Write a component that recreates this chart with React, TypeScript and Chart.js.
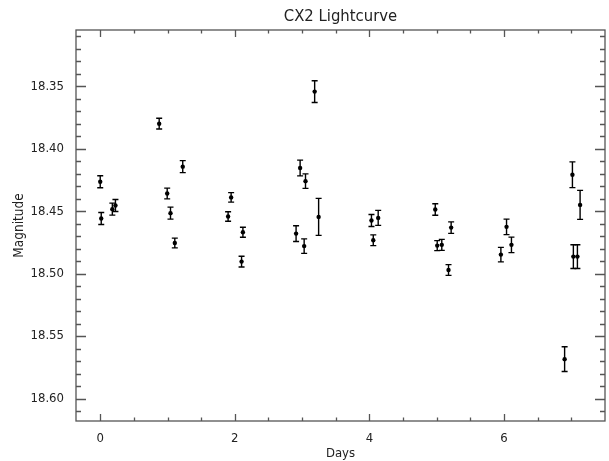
import React, { useEffect, useRef } from "react";
import { Chart, registerables } from "chart.js";

Chart.register(...registerables);

const days = [
  0.0, 0.015, 0.18, 0.226, 0.876, 0.995, 1.044, 1.108, 1.226, 1.9, 1.945, 2.1,
  2.12, 2.91, 2.97, 3.03, 3.05, 3.186, 3.245, 4.03, 4.057, 4.13, 4.978, 5.007,
  5.075, 5.175, 5.214, 5.953, 6.037, 6.11, 6.9, 7.016, 7.03, 7.09, 7.13,
];
const mags = [
  18.4265, 18.4559, 18.4484, 18.4455, 18.38, 18.4359, 18.4516, 18.4755, 18.4144,
  18.4543, 18.439, 18.4904, 18.4669, 18.468, 18.4155, 18.478, 18.426, 18.3543,
  18.4546, 18.4575, 18.4733, 18.4554, 18.4487, 18.4776, 18.477, 18.4971, 18.4632,
  18.4848, 18.4626, 18.477, 18.5685, 18.4209, 18.4864, 18.4864, 18.445,
];
const errs = [
  0.0048, 0.0048, 0.0048, 0.0048, 0.0043, 0.0043, 0.0048, 0.0039, 0.0048, 0.0038,
  0.0038, 0.0043, 0.004, 0.0063, 0.0063, 0.0058, 0.0058, 0.0087, 0.0148, 0.0048,
  0.0043, 0.006, 0.0046, 0.004, 0.0044, 0.0043, 0.0046, 0.0058, 0.0062, 0.0062,
  0.0099, 0.0103, 0.0095, 0.0095, 0.0116,
];
const xTicks = [0, 2, 4, 6];
const xMinorTicks = [0.5, 1, 1.5, 2.5, 3, 3.5, 4.5, 5, 5.5, 6.5, 7];
const yTicks = [18.35, 18.4, 18.45, 18.5, 18.55, 18.6];
const yMinorTicks = [
  18.31, 18.32, 18.33, 18.34, 18.36, 18.37, 18.38, 18.39, 18.41, 18.42, 18.43,
  18.44, 18.46, 18.47, 18.48, 18.49, 18.51, 18.52, 18.53, 18.54, 18.56, 18.57,
  18.58, 18.59, 18.61,
];

const FONT = "'Liberation Sans Narrow', 'DejaVu Sans Condensed', 'Liberation Sans', sans-serif";
const AXIS_COLOR = "#555";
const TEXT_COLOR = "#222";

const errorBarPlugin = {
  id: "errorBars",
  afterDatasetsDraw(chart: any) {
    const { ctx, scales } = chart;
    const x = scales.x;
    const y = scales.y;
    ctx.save();
    ctx.strokeStyle = "#000";
    ctx.lineWidth = 1.4;
    days.forEach((d, i) => {
      const px = x.getPixelForValue(d);
      const y1 = y.getPixelForValue(mags[i] - errs[i]);
      const y2 = y.getPixelForValue(mags[i] + errs[i]);
      ctx.beginPath();
      ctx.moveTo(px, y1);
      ctx.lineTo(px, y2);
      ctx.moveTo(px - 3, y1);
      ctx.lineTo(px + 3, y1);
      ctx.moveTo(px - 3, y2);
      ctx.lineTo(px + 3, y2);
      ctx.stroke();
    });
    ctx.restore();
  },
};

const frameTickPlugin = {
  id: "frameTicks",
  afterDraw(chart: any) {
    const { ctx, chartArea, scales } = chart;
    const { left, right, top, bottom } = chartArea;
    const x = scales.x;
    const y = scales.y;
    ctx.save();
    ctx.strokeStyle = AXIS_COLOR;
    ctx.lineWidth = 1.3;
    ctx.strokeRect(left, top, right - left, bottom - top);
    ctx.beginPath();
    const xt = (vals: number[], len: number) => {
      vals.forEach((v) => {
        const p = Math.round(x.getPixelForValue(v)) + 0.5;
        ctx.moveTo(p, bottom);
        ctx.lineTo(p, bottom - len);
        ctx.moveTo(p, top);
        ctx.lineTo(p, top + len);
      });
    };
    const yt = (vals: number[], len: number) => {
      vals.forEach((v) => {
        const p = Math.round(y.getPixelForValue(v)) + 0.5;
        ctx.moveTo(left, p);
        ctx.lineTo(left + len, p);
        ctx.moveTo(right, p);
        ctx.lineTo(right - len, p);
      });
    };
    xt(xTicks, 7);
    xt(xMinorTicks, 3.5);
    yt(yTicks, 10);
    yt(yMinorTicks, 5);
    ctx.stroke();
    ctx.restore();
  },
};

export default function App() {
  const ref = useRef<HTMLCanvasElement | null>(null);
  useEffect(() => {
    document.body.style.margin = "0";
    if (!ref.current) return;
    const chart = new Chart(ref.current, {
      type: "scatter",
      data: {
        datasets: [
          {
            label: "CX2",
            data: days.map((d, i) => ({ x: d, y: mags[i] })),
            pointRadius: 2.2,
            pointBackgroundColor: "#000",
            pointBorderColor: "#000",
            pointBorderWidth: 0,
          },
        ],
      },
      options: {
        animation: false,
        responsive: false,
        devicePixelRatio: 1,
        layout: { padding: { left: 0, right: 2, top: 0, bottom: 0 } },
        plugins: {
          legend: { display: false },
          tooltip: { enabled: false },
          title: { display: false },
        },
        scales: {
          x: {
            type: "linear",
            position: "bottom",
            min: -0.36,
            max: 7.5,
            grid: { display: false, drawTicks: false },
            border: { display: false },
            afterBuildTicks: (s: any) => {
              s.ticks = xTicks.map((v) => ({ value: v }));
            },
            afterFit: (s: any) => {
              s.height = 40;
            },
            ticks: {
              padding: 10,
              color: TEXT_COLOR,
              font: { family: FONT, size: 13 },
              maxRotation: 0,
              callback: (v: any) => String(v),
            },
            title: {
              display: true,
              text: "Days",
              color: TEXT_COLOR,
              font: { family: FONT, size: 13 },
              padding: { top: 0, bottom: 0 },
            },
          },
          xTop: {
            type: "linear",
            position: "top",
            min: -0.36,
            max: 7.5,
            grid: { display: false, drawTicks: false },
            border: { display: false },
            ticks: { display: false },
            afterFit: (s: any) => {
              s.height = 30;
            },
            title: {
              display: true,
              text: "CX2 Lightcurve",
              color: TEXT_COLOR,
              font: { family: FONT, size: 16.5 },
              padding: { top: 7, bottom: 0 },
            },
          },
          y: {
            type: "linear",
            reverse: true,
            min: 18.305,
            max: 18.618,
            grid: { display: false, drawTicks: false },
            border: { display: false },
            afterBuildTicks: (s: any) => {
              s.ticks = yTicks.map((v) => ({ value: v }));
            },
            afterFit: (s: any) => {
              s.width = 76;
            },
            ticks: {
              padding: 12,
              color: TEXT_COLOR,
              font: { family: FONT, size: 13 },
              callback: (v: any) => Number(v).toFixed(2),
            },
            title: {
              display: true,
              text: "Magnitude",
              color: TEXT_COLOR,
              font: { family: FONT, size: 13.5 },
              padding: { top: 11, bottom: 0 },
            },
          },
        },
      },
      plugins: [errorBarPlugin, frameTickPlugin],
    });
    return () => chart.destroy();
  }, []);
  return (
    <div style={{ position: "absolute", left: 0, top: 0, width: 609, height: 461 }}>
      <canvas ref={ref} width={609} height={461} style={{ width: 609, height: 461 }} />
    </div>
  );
}
